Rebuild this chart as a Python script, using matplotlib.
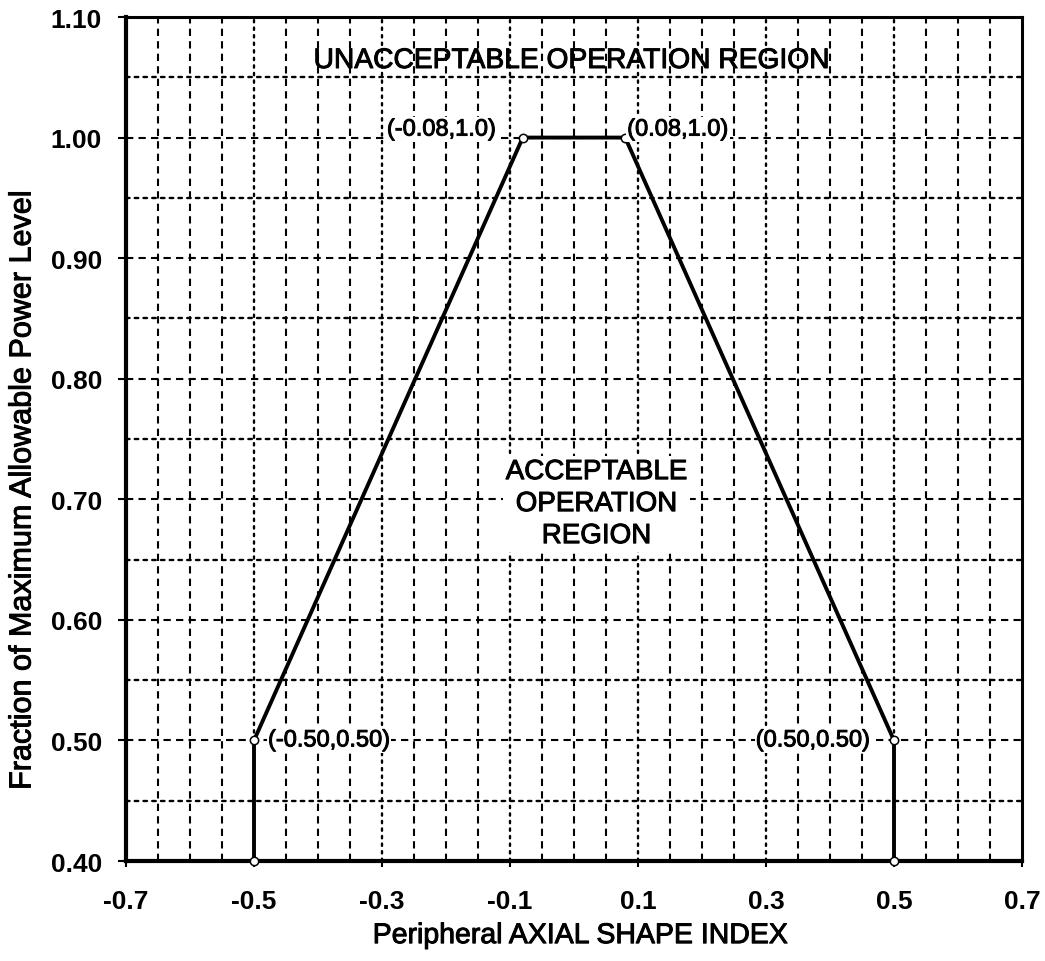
import numpy as np
import matplotlib
matplotlib.use("Agg")
import matplotlib.pyplot as plt
import matplotlib.patheffects as pe

plt.rcParams['font.family'] = ['Liberation Sans', 'DejaVu Sans']

# limit line vertices (axial shape index, fraction of power)
asi = [-0.50, -0.50, -0.08, 0.08, 0.50, 0.50]
power = [0.40, 0.50, 1.00, 1.00, 0.50, 0.40]

# labelled corner points
labels = ["(-0.08,1.0)", "(0.08,1.0)", "(-0.50,0.50)", "(0.50,0.50)"]
label_x = [-0.08, 0.08, -0.50, 0.50]
label_y = [1.00, 1.00, 0.50, 0.50]

xticks = [-0.7, -0.5, -0.3, -0.1, 0.1, 0.3, 0.5, 0.7]
yticks = [0.40, 0.50, 0.60, 0.70, 0.80, 0.90, 1.00, 1.10]

# slightly heavier text, like the scanned original
heavy = [pe.withStroke(linewidth=0.7, foreground='black')]

fig = plt.figure(figsize=(10.45, 9.62), dpi=100)
ax = fig.add_axes([126 / 1045, 1 - 862 / 962, 896 / 1045, 844 / 962])
ax.set_xlim(-0.7, 0.7)
ax.set_ylim(0.40, 1.10)

# grid: every 0.05 both ways
for gx in np.arange(-0.65, 0.66, 0.05):
    major = abs((gx + 0.7) / 0.2 - round((gx + 0.7) / 0.2)) < 1e-6
    if major:
        ax.axvline(gx, color='black', lw=1.7, ls=(0, (1, 2.2)), dash_capstyle='round', zorder=1)
    else:
        ax.axvline(gx, color='black', lw=1.5, ls=(0, (3.5, 2.5)), zorder=1)
for gy in np.arange(0.45, 1.06, 0.05):
    major = abs(gy * 10 - round(gy * 10)) < 1e-6
    if major:
        ax.axhline(gy, color='black', lw=1.5, ls=(0, (3.5, 2.5)), zorder=1)
    else:
        ax.axhline(gy, color='black', lw=1.7, ls=(0, (1.5, 2.2)), dash_capstyle='round', zorder=1)

ax.plot(asi, power, color='black', lw=2.8, marker='o', ms=6, mfc='white',
        mec='black', mew=1.1, zorder=3, clip_on=False)

offsets = [(-27, 8, 'right'), (2, 8, 'left'), (14, 0, 'left'), (-24, 0, 'right')]
for txt, lx, ly, (dx, dy, ha) in zip(labels, label_x, label_y, offsets):
    ax.annotate(txt, (lx, ly), xytext=(dx, dy), textcoords='offset pixels',
                ha=ha, va='center', fontsize=17, zorder=4, path_effects=heavy,
                bbox=dict(boxstyle='square,pad=0.05', fc='white', ec='none'))

ax.text(-0.003, 1.0635, "UNACCEPTABLE OPERATION REGION", ha='center', va='center',
        fontsize=20.3, zorder=4, path_effects=heavy)
ax.text(0.035, 0.696, "ACCEPTABLE\nOPERATION\nREGION", ha='center', va='center',
        fontsize=20, linespacing=1.3, zorder=4, path_effects=heavy,
        bbox=dict(boxstyle='square,pad=0.1', fc='white', ec='none'))

ax.set_xticks(xticks)
ax.set_yticks(yticks)
ax.set_xticklabels([f"{v:.1f}" for v in xticks], fontsize=19, fontweight='bold')
ax.set_yticklabels([f"{v:.2f}" for v in yticks], fontsize=19, fontweight='bold')
ax.tick_params(axis='x', direction='out', length=4.5, width=1.5, pad=16)
ax.tick_params(axis='y', direction='out', length=5.8, width=1.5, pad=11.5)

for side in ['left', 'bottom']:
    ax.spines[side].set_linewidth(3)
for side in ['top', 'right']:
    ax.spines[side].set_linewidth(2.2)

ax.set_xlabel("Peripheral AXIAL SHAPE INDEX", fontsize=20.5, path_effects=heavy)
ax.set_ylabel("Fraction of Maximum Allowable Power Level", fontsize=22, path_effects=heavy)
ax.xaxis.set_label_coords(0.507, -0.089)
ax.yaxis.set_label_coords(-0.1155, 0.438)
ax.xaxis.label.set_va('center')
ax.yaxis.label.set_va('center')

fig.savefig("out.png", dpi=100)
